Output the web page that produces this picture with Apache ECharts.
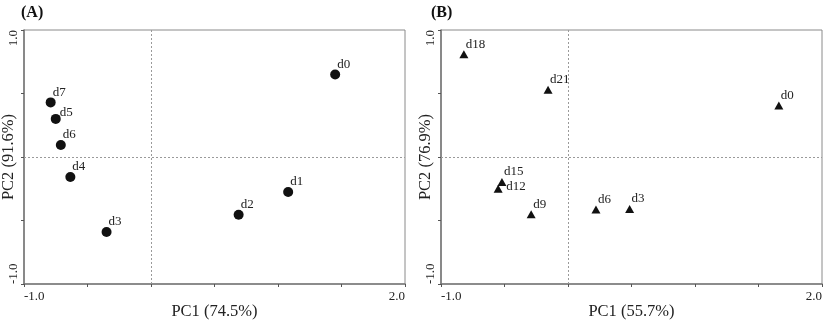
<!DOCTYPE html>
<html>
<head>
<meta charset="utf-8">
<script src="https://cdn.jsdelivr.net/npm/echarts@6/dist/echarts.min.js"></script>
<style>
html,body{margin:0;padding:0;background:#fff;}
#c{width:827px;height:323px;}
</style>
</head>
<body>
<div id="c"></div>
<script>
// Panel A (circles)
const aNames = ['d0', 'd1', 'd2', 'd3', 'd4', 'd5', 'd6', 'd7'];
const aPC1 = [1.45, 1.08, 0.69, -0.35, -0.635, -0.75, -0.71, -0.79];
const aPC2 = [0.65, -0.275, -0.455, -0.59, -0.157, 0.30, 0.095, 0.43];
// Panel B (triangles)
const bNames = ['d0', 'd3', 'd6', 'd9', 'd12', 'd15', 'd18', 'd21'];
const bPC1 = [1.66, 0.485, 0.22, -0.29, -0.55, -0.52, -0.82, -0.157];
const bPC2 = [0.405, -0.41, -0.414, -0.45, -0.25, -0.197, 0.81, 0.53];
// Axis texts
const panelTitles = ['(A)', '(B)'];
const xNames = ['PC1 (74.5%)', 'PC1 (55.7%)'];
const yNames = ['PC2 (91.6%)', 'PC2 (76.9%)'];
const xRange = [-1, 2];
const yRange = [-1, 1];

const FONT = '"Liberation Serif", "Times New Roman", serif';
const chart = echarts.init(document.getElementById('c'), null, {renderer: 'canvas'});

function fmt(v) { return v.toFixed(1); }

function buildData(names, xs, ys, special) {
  return names.map((n, i) => {
    const item = {name: n, value: [xs[i], ys[i]]};
    if (special[n]) item.label = {position: special[n]};
    return item;
  });
}

function xAxisFor(idx) {
  return {
    gridIndex: idx, type: 'value', min: xRange[0], max: xRange[1], interval: 0.5,
    name: xNames[idx], nameLocation: 'middle', nameGap: 19, nameMoveOverlap: false,
    nameTextStyle: {fontFamily: FONT, fontSize: 16.5, color: '#222', verticalAlign: 'top'},
    axisLine: {show: true, onZero: false, lineStyle: {color: '#7a7a7a', width: 1.6}},
    axisTick: {show: true, length: 3, lineStyle: {color: '#555', width: 1}},
    axisLabel: {
      fontFamily: FONT, fontSize: 13, color: '#222', margin: 6,
      alignMinLabel: 'left', alignMaxLabel: 'right',
      formatter: v => (Math.abs(v - xRange[0]) < 1e-9 || Math.abs(v - xRange[1]) < 1e-9) ? fmt(v) : ''
    },
    splitLine: {show: false}
  };
}
function yAxisFor(idx) {
  return {
    gridIndex: idx, type: 'value', min: yRange[0], max: yRange[1], interval: 0.5,
    name: yNames[idx], nameLocation: 'middle', nameGap: 7, nameRotate: 90, nameMoveOverlap: false,
    nameTextStyle: {fontFamily: FONT, fontSize: 16.5, color: '#222'},
    axisLine: {show: true, onZero: false, lineStyle: {color: '#7a7a7a', width: 1.6}},
    axisTick: {show: true, length: 3, lineStyle: {color: '#555', width: 1}},
    axisLabel: {
      fontFamily: FONT, fontSize: 13, color: '#222', margin: 4, rotate: 90,
      alignMinLabel: 'left', alignMaxLabel: 'right',
      formatter: v => (Math.abs(v - yRange[0]) < 1e-9 || Math.abs(v - yRange[1]) < 1e-9) ? fmt(v) : ''
    },
    splitLine: {show: false}
  };
}

const zeroLines = {
  silent: true, symbol: 'none', animation: false,
  label: {show: false},
  lineStyle: {type: [2, 2], color: '#9a9a9a', width: 1},
  data: [{xAxis: 0}, {yAxis: 0}]
};

const gridBase = {top: 30, width: 381, height: 254, show: true, borderColor: '#8a8a8a', borderWidth: 1,
                  containLabel: false, outerBoundsMode: 'none'};

const option = {
  animation: false,
  backgroundColor: '#fff',
  title: [
    {text: panelTitles[0], left: 16, top: 0, textStyle: {fontFamily: FONT, fontSize: 16, fontWeight: 'bold', color: '#111'}},
    {text: panelTitles[1], left: 426, top: 0, textStyle: {fontFamily: FONT, fontSize: 16, fontWeight: 'bold', color: '#111'}}
  ],
  grid: [
    Object.assign({left: 24}, gridBase),
    Object.assign({left: 441}, gridBase)
  ],
  xAxis: [xAxisFor(0), xAxisFor(1)],
  yAxis: [yAxisFor(0), yAxisFor(1)],
  series: [
    {
      type: 'scatter', xAxisIndex: 0, yAxisIndex: 0,
      symbol: 'circle', symbolSize: 10,
      itemStyle: {color: '#111', opacity: 1},
      label: {show: true, formatter: '{b}', position: [7, -5], align: 'left', verticalAlign: 'middle',
              fontFamily: FONT, fontSize: 13, color: '#222'},
      markLine: zeroLines,
      data: buildData(aNames, aPC1, aPC2, {d5: [9, -1]})
    },
    {
      type: 'scatter', xAxisIndex: 1, yAxisIndex: 1,
      symbol: 'triangle', symbolSize: [9, 8],
      itemStyle: {color: '#111', opacity: 1},
      label: {show: true, formatter: '{b}', position: [6.5, -6], align: 'left', verticalAlign: 'middle',
              fontFamily: FONT, fontSize: 13, color: '#222'},
      markLine: zeroLines,
      data: buildData(bNames, bPC1, bPC2, {d12: [12.5, 2]})
    }
  ]
};
chart.setOption(option);
</script>
</body>
</html>
